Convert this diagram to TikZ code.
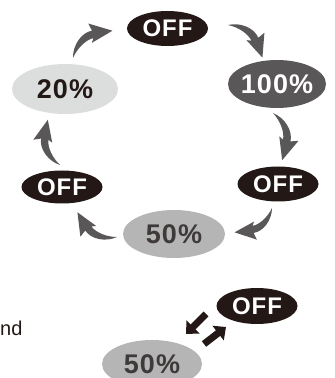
\documentclass[tikz,border=0pt]{standalone}
\usepackage{fontspec}
\setmainfont{Liberation Sans}
\usetikzlibrary{shapes.geometric,arrows.meta}
\definecolor{offblack}{HTML}{231815}
\definecolor{darkfill}{HTML}{595757}
\definecolor{lightfill}{HTML}{DCDDDD}
\definecolor{midfill}{HTML}{B5B5B6}
\definecolor{midtext}{HTML}{3E3A39}
\definecolor{arrowgray}{HTML}{595757}
\newcommand\swoosh[4]{%
  \pgfmathsetmacro\swang{atan2((#4)-(#2),(#3)-(#1))}%
  \pgfmathsetmacro\swlen{veclen((#3)-(#1),(#4)-(#2))}%
  \begin{scope}[shift={(#1,#2)},rotate=\swang,scale=\swlen]
    \fill[arrowgray] (0,0) .. controls (0.15,0.22) and (0.45,0.33) .. (0.654,0.232)
      -- (0.677,0.398) -- (1,-0.018) -- (0.503,0.027) -- (0.586,0.088)
      .. controls (0.45,0.15) and (0.2,0.12) .. (0,0) -- cycle;
  \end{scope}}
\tikzset{
  lab/.style={ellipse, inner sep=0pt},
  offfont/.style={font={\fontsize{24}{24}\selectfont\bfseries\addfontfeature{LetterSpace=4}}},
  pctfont/.style={font={\fontsize{27}{27}\selectfont\bfseries\addfontfeature{LetterSpace=4}}},
  offn/.style={lab, offfont, fill=offblack, text=white, minimum width=81pt, minimum height=35pt},
  hundred/.style={lab, pctfont, fill=darkfill, text=white, minimum width=98pt, minimum height=48pt},
  twenty/.style={lab, pctfont, fill=lightfill, text=offblack, minimum width=106pt, minimum height=50pt},
  fifty/.style={lab, pctfont, fill=midfill, text=midtext, minimum width=102pt, minimum height=48pt},
  blockarrow/.style={line width=7pt, offblack, -{Triangle[length=10pt,width=18pt]}},
}
\begin{document}
\begin{tikzpicture}[x=1pt,y=1pt]
\useasboundingbox (0,0) rectangle (335,378);
\clip (0,0) rectangle (335,378);
% main cycle
\node[offn] (off1) at (167.5,349.5) {\makebox[0pt]{OFF}};
\node[hundred] (p100) at (277,294) {\makebox[0pt]{100\%}};
\node[offn] (off2) at (278,194) {\makebox[0pt]{OFF}};
\node[fifty] (p50) at (174,144) {\makebox[0pt]{50\%}};
\node[offn, minimum height=33pt] (off3) at (62,191) {\makebox[0pt]{OFF}};
\node[twenty] (p20) at (65,289) {\makebox[0pt]{20\%}};
% curved arrows
\swoosh{73}{320}{112}{348}
\swoosh{228}{353}{263}{321}
\swoosh{273}{265}{283}{218}
\swoosh{272}{170}{235}{145}
\swoosh{117}{141}{77}{165}
\swoosh{60}{213}{47}{258}
% bottom part
\node[anchor=base west, inner sep=0pt, text=offblack, font={\fontsize{20}{20}\selectfont}] (nd) at (0,42) {nd};
\node[offn, minimum height=36pt] (off4) at (257,72) {\makebox[0pt]{OFF}};
\node[fifty, minimum width=100pt] (p50b) at (152,14) {\makebox[0pt]{50\%}};
\coordinate (a1s) at (206,64);
\coordinate (a1e) at (186,44);
\coordinate (a2s) at (204,34);
\coordinate (a2e) at (226,51);
\draw[blockarrow] (a1s) -- (a1e);
\draw[blockarrow] (a2s) -- (a2e);
\end{tikzpicture}
\end{document}
